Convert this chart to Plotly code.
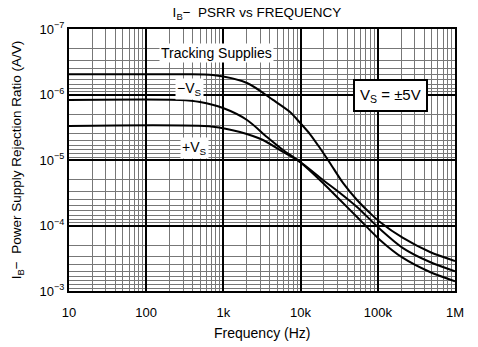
import plotly.graph_objects as go

# ---- data ----
freq_tracking = [10, 100, 274, 733, 2023, 4387, 7290, 9820, 13200, 17800, 24000, 35400, 53800, 79200, 106700, 212000, 474000, 1000000]
psrr_tracking = [4.92e-7, 4.92e-7, 4.9e-7, 5.03e-7, 6.67e-7, 1.21e-6, 1.85e-6, 2.7e-6, 4.01e-6, 6.56e-6, 1.11e-5, 2.24e-5, 4.08e-5, 6.45e-5, 8.85e-5, 1.55e-4, 2.54e-4, 3.48e-4]

freq_minus = [10, 274, 498, 988, 2023, 3670, 5916, 9820, 19500, 32400, 53800, 106700, 212000, 474000, 1000000]
psrr_minus = [1.21e-6, 1.21e-6, 1.30e-6, 1.61e-6, 2.45e-6, 4.46e-6, 7.03e-6, 1.07e-5, 2.24e-5, 4.08e-5, 7.41e-5, 1.66e-4, 3.13e-4, 5.13e-4, 7.1e-4]

freq_plus = [10, 733, 1641, 3258, 5916, 9820, 19500, 32400, 53800, 106700, 212000, 474000, 1000000]
psrr_plus = [3.03e-6, 3.1e-6, 3.74e-6, 4.95e-6, 7.55e-6, 1.07e-5, 2.02e-5, 3.19e-5, 5.22e-5, 1.13e-4, 2.21e-4, 3.61e-4, 5.0e-4]

x_tick_vals = [10, 100, 1000, 10000, 100000, 1000000]
x_tick_text = ["10", "100", "1k", "10k", "100k", "1M"]
y_tick_vals = [1e-7, 1e-6, 1e-5, 1e-4, 1e-3]
y_tick_text = ["10<sup>−7</sup>", "10<sup>−6</sup>", "10<sup>−5</sup>", "10<sup>−4</sup>", "10<sup>−3</sup>"]

FONT = "Liberation Sans, Arial, Helvetica, sans-serif"

fig = go.Figure()
for fx, fy, name in [(freq_tracking, psrr_tracking, "Tracking Supplies"),
                     (freq_minus, psrr_minus, "−VS"),
                     (freq_plus, psrr_plus, "+VS")]:
    fig.add_trace(go.Scatter(x=fx, y=fy, mode="lines", name=name,
                             line=dict(color="black", width=2, shape="spline", smoothing=0.8)))

fig.update_layout(
    width=478, height=347,
    margin=dict(l=69, r=23, t=29, b=56),
    paper_bgcolor="white", plot_bgcolor="white",
    showlegend=False,
    font=dict(family=FONT, size=13, color="black"),
    title=dict(text="I<sub>B</sub>−  PSRR vs FREQUENCY", x=0.487, xref="paper",
               y=0.965, yref="container", xanchor="center", yanchor="middle",
               font=dict(size=13.5)),
    xaxis=dict(type="log", range=[1, 6], tickvals=x_tick_vals, ticktext=x_tick_text,
               automargin=False,
               showgrid=True, gridcolor="black", gridwidth=1.5,
               showline=True, linecolor="black", linewidth=2, mirror=True,
               ticks="", ticklen=0, ticklabelstandoff=8,
               minor=dict(showgrid=True, gridcolor="#777", gridwidth=0.7, dtick="D1"),
               tickfont=dict(size=13), zeroline=False),
    yaxis=dict(type="log", range=[-3, -7], tickvals=y_tick_vals, ticktext=y_tick_text,
               automargin=False,
               showgrid=True, gridcolor="black", gridwidth=1.5,
               showline=True, linecolor="black", linewidth=2, mirror=True,
               ticks="", ticklen=0,
               minor=dict(showgrid=True, gridcolor="#777", gridwidth=0.7, dtick="D1"),
               title=dict(text="I<sub>B</sub>−  Power Supply Rejection Ratio (A/V)",
                          font=dict(size=13.5)),
               tickfont=dict(size=13), zeroline=False),
)

# x-axis title placed as an annotation so its vertical position matches
fig.add_annotation(text="Frequency (Hz)", x=0.5, y=-0.16, xref="paper", yref="paper",
                   xanchor="center", yanchor="middle", showarrow=False,
                   font=dict(size=14, color="black"))

ann_common = dict(xref="paper", yref="paper", showarrow=False, bgcolor="white",
                  xanchor="center", yanchor="middle",
                  font=dict(size=14, color="black"))
fig.add_annotation(text="Tracking Supplies", x=0.381, y=0.908, **ann_common)
fig.add_annotation(text="−V<sub>S</sub>", x=0.313, y=0.772, **ann_common)
fig.add_annotation(text="+V<sub>S</sub>", x=0.324, y=0.545, **ann_common)
fig.add_annotation(text="V<sub>S</sub> = ±5V", x=0.833, y=0.748, xref="paper", yref="paper",
                   xanchor="center", yanchor="middle",
                   showarrow=False, bgcolor="white", bordercolor="black", borderwidth=2,
                   borderpad=5, font=dict(size=15, color="black"))

fig.write_html("out.html", include_plotlyjs=True, config={"displayModeBar": False},
               post_script="document.body.style.margin='0';document.body.style.padding='0';")
